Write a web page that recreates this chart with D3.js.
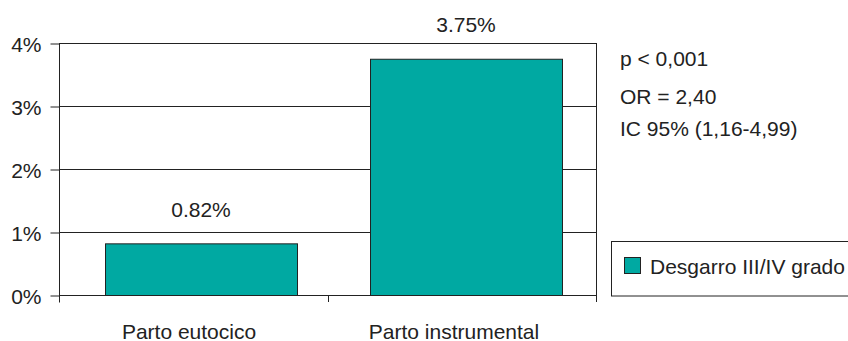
<!DOCTYPE html>
<html>
<head>
<meta charset="utf-8">
<script src="https://cdn.jsdelivr.net/npm/d3@7"></script>
<style>
  body { margin: 0; background: #fff; }
  svg { display: block; font-family: "Liberation Sans", Arial, sans-serif; }
</style>
</head>
<body>
<svg id="chart" width="848" height="341"></svg>
<script>
const categories = ["Parto eutocico", "Parto instrumental"];
const values = [0.82, 3.75];
const valueLabels = ["0.82%", "3.75%"];
const yTicks = [0, 1, 2, 3, 4];
const stats = ["p < 0,001", "OR = 2,40", "IC 95% (1,16-4,99)"];
const seriesName = "Desgarro III/IV grado";

(function () {
const svg = d3.select("#chart");
const plotLeft = 59, plotRight = 596, plotTop = 43, plotBottom = 295;
const fill = "#00A9A2";
const ink = "#222";
const fontSize = 21;

const x = d3.scaleBand().domain(categories).range([plotLeft, plotRight])
  .paddingInner(0.2755).paddingOuter(0.151).align(0.575);
const y = d3.scaleLinear().domain([0, 4]).range([plotBottom, plotTop]);

// horizontal gridlines
svg.append("g").selectAll("line").data(yTicks.filter(d => d > 0)).join("line")
  .attr("x1", plotLeft).attr("x2", plotRight)
  .attr("y1", d => y(d) + 0.5).attr("y2", d => y(d) + 0.5)
  .attr("stroke", ink).attr("stroke-width", 1);

// right border of plot area
svg.append("line").attr("x1", plotRight + 0.5).attr("x2", plotRight + 0.5)
  .attr("y1", plotTop).attr("y2", plotBottom + 7)
  .attr("stroke", ink);

// bars
svg.append("g").selectAll("rect").data(values).join("rect")
  .attr("x", (d, i) => x(categories[i]) + 0.5)
  .attr("width", x.bandwidth())
  .attr("y", d => y(d) + 0.5)
  .attr("height", d => y(0) - y(d))
  .attr("fill", fill).attr("stroke", ink).attr("stroke-width", 1);

// value labels above bars
svg.append("g").selectAll("text").data(values).join("text")
  .attr("x", (d, i) => x(categories[i]) + x.bandwidth() / 2)
  .attr("y", d => y(d) - 26.5)
  .attr("text-anchor", "middle")
  .attr("font-size", fontSize).attr("fill", ink)
  .text((d, i) => valueLabels[i]);

// y axis
const yAxis = d3.axisLeft(y).tickValues(yTicks).tickFormat(d => d + "%").tickSize(9).tickPadding(9);
const gy = svg.append("g").attr("transform", `translate(${plotLeft + 0.5},0.5)`).call(yAxis);
gy.select(".domain").attr("d", `M0,${plotTop}V${plotBottom + 7}`).attr("stroke", ink);
gy.selectAll(".tick line").attr("stroke", ink);
gy.selectAll(".tick text").attr("font-size", fontSize).attr("fill", ink)
  .attr("font-family", "Liberation Sans, Arial, sans-serif").attr("dy", "0.36em");

// x axis baseline with tick marks at the ends and at the middle
svg.append("line").attr("x1", plotLeft).attr("x2", plotRight)
  .attr("y1", plotBottom + 0.5).attr("y2", plotBottom + 0.5).attr("stroke", ink);
const xr = x.range();
const boundaries = [xr[0], (xr[0] + xr[1]) / 2];
svg.append("g").selectAll("line").data(boundaries).join("line")
  .attr("x1", d => Math.round(d) + 0.5).attr("x2", d => Math.round(d) + 0.5)
  .attr("y1", plotBottom).attr("y2", plotBottom + 7)
  .attr("stroke", ink);

// category labels
svg.append("g").selectAll("text").data(categories).join("text")
  .attr("x", d => x(d) + x.bandwidth() / 2 - 12)
  .attr("y", 339)
  .attr("text-anchor", "middle")
  .attr("font-size", fontSize).attr("fill", ink)
  .text(d => d);

// statistics annotation
const statY = [65.5, 104, 135.5];
svg.append("g").selectAll("text").data(stats).join("text")
  .attr("x", 620)
  .attr("y", (d, i) => statY[i])
  .attr("font-size", fontSize).attr("fill", ink)
  .text(d => d);

// legend
const lg = svg.append("g");
lg.append("rect").attr("x", 611.5).attr("y", 241.5).attr("width", 250).attr("height", 54.5)
  .attr("fill", "#fff").attr("stroke", ink);
lg.append("rect").attr("x", 624.5).attr("y", 257.5).attr("width", 16).attr("height", 16)
  .attr("fill", fill).attr("stroke", ink);
lg.append("text").attr("x", 650).attr("y", 273.5).attr("font-size", fontSize).attr("fill", ink).text(seriesName);
})();
</script>
</body>
</html>
